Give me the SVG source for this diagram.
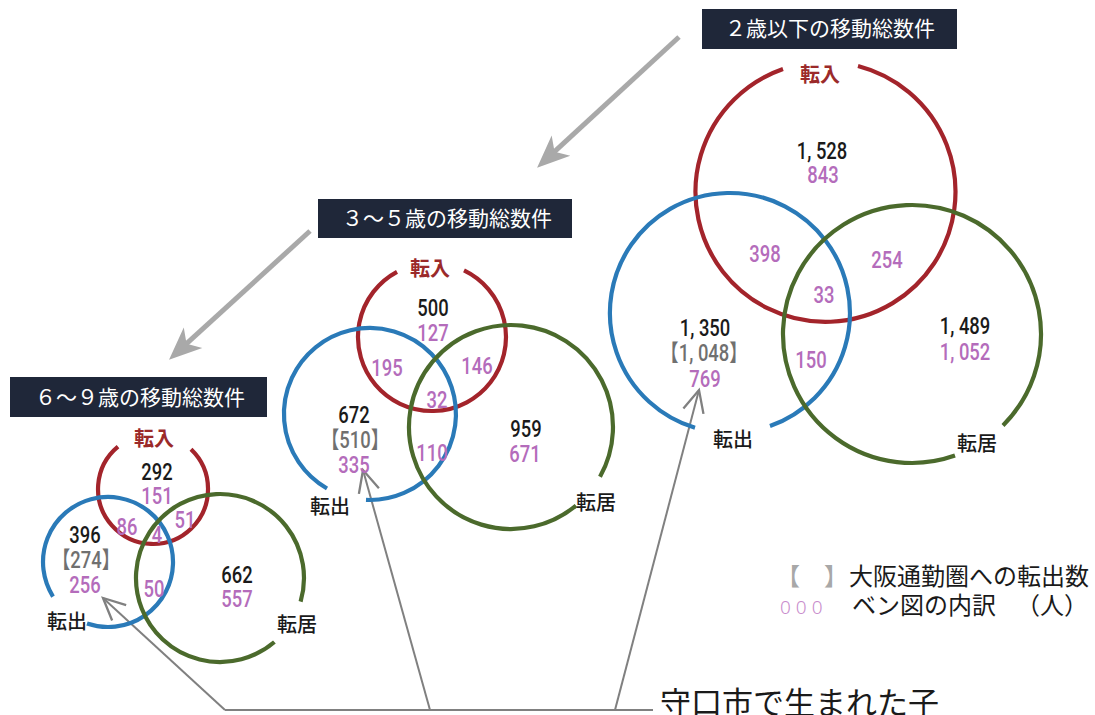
<svg xmlns="http://www.w3.org/2000/svg" width="1095" height="715" viewBox="0 0 1095 715">
<style>
.bg{fill:#ffffff}
.title-box{fill:#1f2739}
.title{fill:#ffffff;font-family:"Noto Sans CJK JP","Noto Sans",sans-serif;font-size:21px;text-anchor:middle}
.c{fill:none;stroke-width:4.2;stroke-linecap:butt}
.red{stroke:#a3242b}
.blue{stroke:#2a7ab8}
.green{stroke:#4b6a2c}
.lab{font-family:"Noto Sans CJK JP",sans-serif;font-size:20px;text-anchor:middle;fill:#1a1a1a;font-weight:500}
.lab-in{font-family:"Noto Sans CJK JP",sans-serif;font-size:20px;text-anchor:middle;fill:#9b2a2a;font-weight:700}
.n{font-family:Roboto,"Liberation Sans","Noto Sans CJK JP",sans-serif;font-size:23px;text-anchor:middle;font-weight:500}
.k{fill:#1a1a1a}
.p{fill:#b46cbb}
.g{fill:#707070}
.arrow{stroke:#a9a9a9;stroke-width:5;fill:none}
.call{stroke:#808080;stroke-width:2;fill:none}
.leg{font-family:"Noto Sans CJK JP",sans-serif;font-size:24px;fill:#1a1a1a}
</style>
<defs>
<marker id="big" markerUnits="userSpaceOnUse" markerWidth="40" markerHeight="40" viewBox="-2 -14 32 28" refX="10" refY="0" orient="auto">
<path d="M26 0 L0 -11 L7 0 L0 11 Z" fill="#a9a9a9"/>
</marker>
<marker id="chev" markerUnits="userSpaceOnUse" markerWidth="30" markerHeight="30" viewBox="-22 -12 26 24" refX="0" refY="0" orient="auto">
<path d="M-19 -9 L0 0 L-19 9" fill="none" stroke="#808080" stroke-width="2"/>
</marker>
</defs>
<rect class="bg" x="0" y="0" width="1095" height="715"/>

<g id="connectors">
<path class="arrow" d="M679 37 L551.8 154.2" marker-end="url(#big)"/>
<path class="arrow" d="M310 231 L183.8 346.2" marker-end="url(#big)"/>
<path class="call" d="M653 710 L225 710"/>
<path class="call" d="M225 710 L103 598" marker-end="url(#chev)"/>
<path class="call" d="M430 710 L363 470" marker-end="url(#chev)"/>
<path class="call" d="M615 710 L699 390" marker-end="url(#chev)"/>
</g>

<g id="venn-under2">
<g id="title-under2">
<rect class="title-box" x="702" y="9" width="255" height="40"/>
<text class="title" x="830" y="36">２歳以下の移動総数件</text>
</g>
<g id="u2-tennyu">
<path class="c red" d="M783 69 A130 130 0 1 0 858 66"/>
<text class="lab-in" x="820" y="82">転入</text>
</g>
<g id="u2-tenshutsu">
<path class="c blue" d="M695 427.8 A120 120 0 1 1 770 426.1"/>
<text class="lab" x="733" y="447">転出</text>
</g>
<g id="u2-tenkyo">
<path class="c green" d="M1003 425.4 A129 129 0 1 0 955 455.6"/>
<text class="lab" x="977" y="451">転居</text>
</g>
<g id="u2-values">
<text class="n k" transform="translate(822 159) scale(0.8 1)">1, 528</text>
<text class="n p" transform="translate(823 183) scale(0.8 1)">843</text>
<text class="n p" transform="translate(765 262) scale(0.8 1)">398</text>
<text class="n p" transform="translate(887 268) scale(0.8 1)">254</text>
<text class="n p" transform="translate(824 303) scale(0.8 1)">33</text>
<text class="n k" transform="translate(705 336) scale(0.8 1)">1, 350</text>
<text class="n g" transform="translate(704 361) scale(0.8 1)">【1, 048】</text>
<text class="n p" transform="translate(705 387) scale(0.8 1)">769</text>
<text class="n p" transform="translate(811 368) scale(0.8 1)">150</text>
<text class="n k" transform="translate(965 334) scale(0.8 1)">1, 489</text>
<text class="n p" transform="translate(965 360) scale(0.8 1)">1, 052</text>
</g>
</g>

<g id="venn-3to5">
<g id="title-3to5">
<rect class="title-box" x="318" y="199" width="254" height="39"/>
<text class="title" x="447" y="226">３～５歳の移動総数件</text>
</g>
<g id="m-tennyu">
<path class="c red" d="M397 271.8 A74 74 0 1 0 464 270.3"/>
<text class="lab-in" x="430" y="276">転入</text>
</g>
<g id="m-tenshutsu">
<path class="c blue" d="M327 488.5 A86 86 0 1 1 366 499.9"/>
<text class="lab" x="330" y="514">転出</text>
</g>
<g id="m-tenkyo">
<path class="c green" d="M600 476.8 A102 102 0 1 0 576 505.6"/>
<text class="lab" x="596" y="510">転居</text>
</g>
<g id="m-values">
<text class="n k" transform="translate(433 316) scale(0.8 1)">500</text>
<text class="n p" transform="translate(433 341) scale(0.8 1)">127</text>
<text class="n p" transform="translate(387 376) scale(0.8 1)">195</text>
<text class="n p" transform="translate(477 374) scale(0.8 1)">146</text>
<text class="n p" transform="translate(437 408) scale(0.8 1)">32</text>
<text class="n k" transform="translate(354 423) scale(0.8 1)">672</text>
<text class="n g" transform="translate(355 448) scale(0.8 1)">【510】</text>
<text class="n p" transform="translate(354 473) scale(0.8 1)">335</text>
<text class="n p" transform="translate(432 461) scale(0.8 1)">110</text>
<text class="n k" transform="translate(526 437) scale(0.8 1)">959</text>
<text class="n p" transform="translate(525 462) scale(0.8 1)">671</text>
</g>
</g>

<g id="venn-6to9">
<g id="title-6to9">
<rect class="title-box" x="10" y="377" width="257" height="40"/>
<text class="title" x="140" y="405">６～９歳の移動総数件</text>
</g>
<g id="s-tennyu">
<path class="c red" d="M118 446.6 A55 55 0 1 0 191 449.2"/>
<text class="lab-in" x="154" y="446">転入</text>
</g>
<g id="s-tenshutsu">
<path class="c blue" d="M53 596.6 A65 65 0 1 1 87 623.5"/>
<text class="lab" x="67" y="629">転出</text>
</g>
<g id="s-tenkyo">
<path class="c green" d="M300.6 601.6 A84 84 0 1 0 274.4 642"/>
<text class="lab" x="297" y="632">転居</text>
</g>
<g id="s-values">
<text class="n k" transform="translate(157 480) scale(0.8 1)">292</text>
<text class="n p" transform="translate(157 504) scale(0.8 1)">151</text>
<text class="n p" transform="translate(127 535) scale(0.8 1)">86</text>
<text class="n p" transform="translate(185 528) scale(0.8 1)">51</text>
<text class="n p" transform="translate(157 543) scale(0.8 1)">4</text>
<text class="n k" transform="translate(85 543) scale(0.8 1)">396</text>
<text class="n g" transform="translate(86 568) scale(0.8 1)">【274】</text>
<text class="n p" transform="translate(85 593) scale(0.8 1)">256</text>
<text class="n p" transform="translate(154 597) scale(0.8 1)">50</text>
<text class="n k" transform="translate(237 583) scale(0.8 1)">662</text>
<text class="n p" transform="translate(237 607) scale(0.8 1)">557</text>
</g>
</g>

<g id="legend">
<text class="leg" x="776" y="585" style="fill:#a8a8a8">【　】</text>
<text class="leg" x="849" y="585">大阪通勤圏への転出数</text>
<text x="780" y="614" style="font-family:'Noto Sans',sans-serif;font-size:19px;font-weight:300;fill:#c88ccc;letter-spacing:5px">000</text>
<text class="leg" x="852" y="614">ベン図の内訳</text>
<text class="leg" x="1016" y="614">（人）</text>
</g>

<g id="callout-label">
<text x="660" y="714" style="font-family:'Noto Sans CJK JP',sans-serif;font-size:31px;fill:#1a1a1a">守口市で生まれた子</text>
</g>
</svg>
